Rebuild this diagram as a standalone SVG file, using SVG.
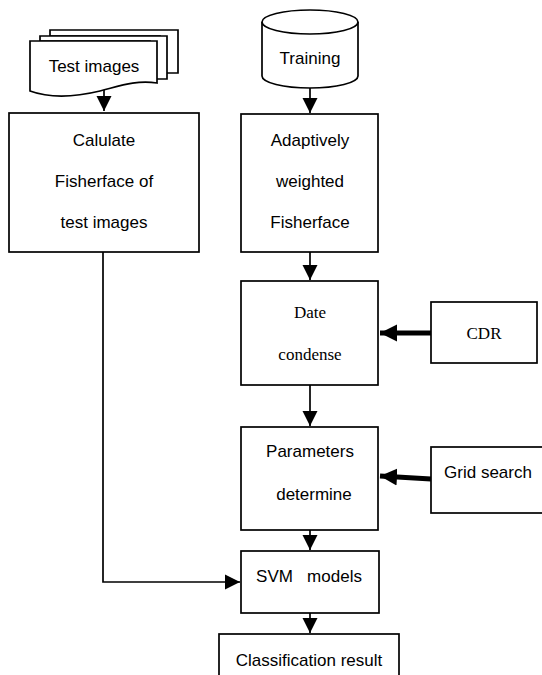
<svg xmlns="http://www.w3.org/2000/svg" width="542" height="675" viewBox="0 0 542 675">
  <defs>
    <marker id="arrow" markerUnits="userSpaceOnUse" markerWidth="16" markerHeight="16" viewBox="0 0 16 16" refX="15" refY="8" orient="auto">
      <path d="M0,0.5 L15,8 L0,15.5 Z" fill="#000"/>
    </marker>
    <marker id="arrow-bold" markerUnits="userSpaceOnUse" markerWidth="18" markerHeight="18" viewBox="0 0 18 18" refX="17" refY="9" orient="auto">
      <path d="M0,0.5 L17,9 L0,17.5 Z" fill="#000"/>
    </marker>
    <style>
      .box { fill: #fff; stroke: #000; stroke-width: 1.7; }
      .line { fill: none; stroke: #000; stroke-width: 1.7; }
      .bold { fill: none; stroke: #000; stroke-width: 5; }
      .sans { font-family: "Liberation Sans", Arial, sans-serif; font-size: 17px; fill: #000; text-anchor: middle; }
      .serif { font-family: "Liberation Serif", "Times New Roman", serif; font-size: 17px; fill: #000; text-anchor: middle; }
    </style>
  </defs>

  <rect width="542" height="675" fill="#fff"/>

  <!-- connectors -->
  <g id="connectors">
    <path class="line" d="M104,90 V111" marker-end="url(#arrow)"/>
    <path class="line" d="M310,88 V113" marker-end="url(#arrow)"/>
    <path class="line" d="M310,252 V280" marker-end="url(#arrow)"/>
    <path class="line" d="M310,385 V426" marker-end="url(#arrow)"/>
    <path class="line" d="M310,530 V550" marker-end="url(#arrow)"/>
    <path class="line" d="M310,613 V633" marker-end="url(#arrow)"/>
    <path class="line" d="M103,252 V582 H240" marker-end="url(#arrow)"/>
    <path class="bold" d="M431,333 H380" marker-end="url(#arrow-bold)"/>
    <path class="bold" d="M431,479 L380,476" marker-end="url(#arrow-bold)"/>
  </g>

  <!-- stacked documents -->
  <g id="test-images">
    <path class="box" d="M50,30 H178 V73 H160 V36 H50 Z"/>
    <path class="box" d="M40,36 H167 V79 H150 V41 H40 Z"/>
    <path class="box" d="M30,41 H157 V83 C135,80 120,86 100,91 C75,97 52,99 30,91 Z"/>
    <text class="sans" x="94" y="72">Test images</text>
  </g>

  <!-- data store -->
  <g id="training">
    <path class="box" d="M262,22 V76 A48,12 0 0 0 358,76 V22"/>
    <ellipse class="box" cx="310" cy="22" rx="48" ry="12"/>
    <text class="sans" x="310" y="64">Training</text>
  </g>

  <g id="calculate">
    <rect class="box" x="9" y="113" width="190" height="139"/>
    <text class="sans" x="104" y="146">Calulate</text>
    <text class="sans" x="104" y="187">Fisherface of</text>
    <text class="sans" x="104" y="228">test images</text>
  </g>

  <g id="weighted">
    <rect class="box" x="241" y="114" width="137" height="138"/>
    <text class="sans" x="310" y="146">Adaptively</text>
    <text class="sans" x="310" y="187">weighted</text>
    <text class="sans" x="310" y="228">Fisherface</text>
  </g>

  <g id="condense">
    <rect class="box" x="241" y="281" width="137" height="104"/>
    <text class="serif" x="310" y="318">Date</text>
    <text class="serif" x="310" y="360">condense</text>
  </g>

  <g id="cdr">
    <rect class="box" x="431" y="302" width="106" height="61"/>
    <text class="serif" x="484" y="339">CDR</text>
  </g>

  <g id="parameters">
    <rect class="box" x="241" y="427" width="137" height="103"/>
    <text class="sans" x="310" y="457">Parameters</text>
    <text class="sans" x="314" y="500">determine</text>
  </g>

  <g id="grid-search">
    <rect class="box" x="431" y="447" width="130" height="66"/>
    <text class="sans" x="488" y="478">Grid search</text>
  </g>

  <g id="svm">
    <rect class="box" x="241" y="551" width="138" height="62"/>
    <text class="sans" x="309" y="582" xml:space="preserve">SVM   models</text>
  </g>

  <g id="result">
    <rect class="box" x="219" y="634" width="180" height="60"/>
    <text class="sans" x="309" y="666">Classification result</text>
  </g>
</svg>
